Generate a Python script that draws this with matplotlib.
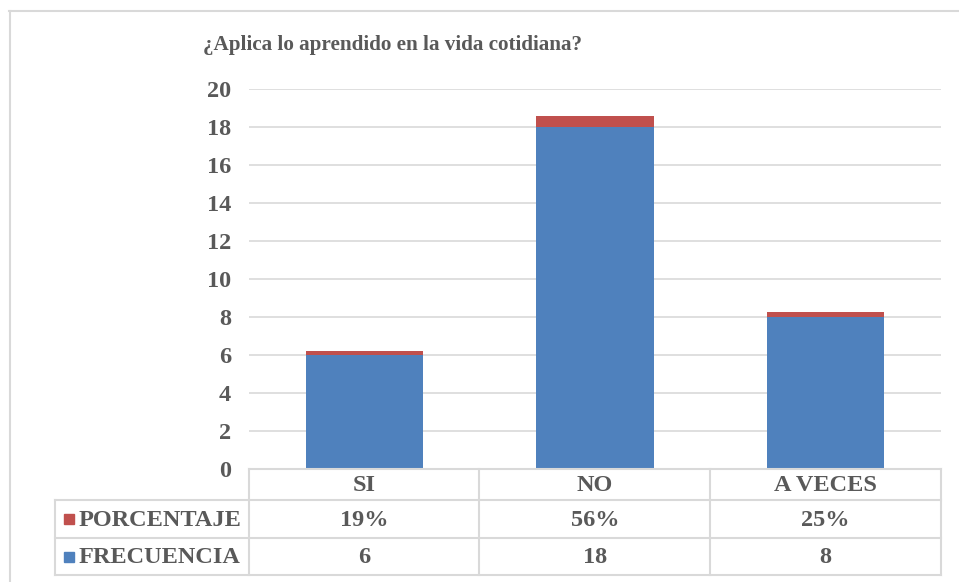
import matplotlib
matplotlib.use("Agg")
import matplotlib.pyplot as plt
from matplotlib.lines import Line2D
from matplotlib.patches import Rectangle
import matplotlib.transforms as mtrans

categories = ["SI", "NO", "A VECES"]
frecuencia = [6, 18, 8]
porcentaje = [0.19, 0.56, 0.25]
porcentaje_labels = ["19%", "56%", "25%"]
title = "¿Aplica lo aprendido en la vida cotidiana?"
yticks = [0, 2, 4, 6, 8, 10, 12, 14, 16, 18, 20]

BLUE = "#4F81BD"
RED = "#C0504D"
TXT = "#595959"
GRID = "#D9D9D9"
FONT = "Liberation Serif"
FS = 17.5

W, H = 959, 582
fig = plt.figure(figsize=(W / 100, H / 100), dpi=100)
plt.rcParams['font.family'] = [FONT, 'DejaVu Serif']

def fx(px):
    return px / W

def fy(py):
    return 1 - py / H

x0, x1, ytop, ybot = 249, 941, 89, 469
ax = fig.add_axes([fx(x0), fy(ybot), fx(x1) - fx(x0), fy(ytop) - fy(ybot)])

xs = list(range(len(categories)))
ax.bar(xs, frecuencia, width=0.51, color=BLUE, zorder=3)
ax.bar(xs, porcentaje, bottom=frecuencia, width=0.51, color=RED, zorder=3)
ax.set_xlim(-0.5, len(categories) - 0.5)
ax.set_ylim(0, 20)
ax.set_yticks(yticks)
ax.set_yticklabels([str(v) for v in yticks], fontsize=FS, fontweight="bold", color=TXT, family=FONT)
ax.tick_params(axis="y", length=0, pad=13)
ax.set_xticks([])
for s in ax.spines.values():
    s.set_visible(False)
ax.grid(axis="y", color=GRID, linewidth=1.2, zorder=0)
ax.set_axisbelow(True)

# Title
fig.text(fx(203), fy(45), title, fontsize=15.2, fontweight="bold", color=TXT,
         family=FONT, ha="left", va="center")

# Outer frame (top and left only visible)
fig.add_artist(Line2D([fx(9), fx(959)], [fy(11), fy(11)], color=GRID, lw=1.5, transform=fig.transFigure))
fig.add_artist(Line2D([fx(9.5), fx(9.5)], [fy(11), fy(582)], color=GRID, lw=1.5, transform=fig.transFigure))

# Data table
row_y = [469, 500, 538, 575]
col_x = [249, 479, 710, 941]
left_x = 55
lc = GRID
lw = 1.5
fig.add_artist(Line2D([fx(col_x[0]), fx(col_x[-1])], [fy(row_y[0])] * 2, color=lc, lw=lw, transform=fig.transFigure))
for yy in row_y[1:]:
    fig.add_artist(Line2D([fx(left_x), fx(col_x[-1])], [fy(yy)] * 2, color=lc, lw=lw, transform=fig.transFigure))
for xx in col_x:
    fig.add_artist(Line2D([fx(xx)] * 2, [fy(row_y[0]), fy(row_y[-1])], color=lc, lw=lw, transform=fig.transFigure))
fig.add_artist(Line2D([fx(left_x)] * 2, [fy(row_y[1]), fy(row_y[-1])], color=lc, lw=lw, transform=fig.transFigure))

blend = mtrans.blended_transform_factory(ax.transData, fig.transFigure)
tkw = dict(fontsize=FS, fontweight="bold", color=TXT, family=FONT, ha="center", va="center", transform=blend)
for i, c in enumerate(categories):
    fig.text(xs[i], fy((row_y[0] + row_y[1]) / 2 + 1), c, **tkw)
    fig.text(xs[i], fy((row_y[1] + row_y[2]) / 2 + 1), porcentaje_labels[i], **tkw)
    fig.text(xs[i], fy((row_y[2] + row_y[3]) / 2 + 1), str(frecuencia[i]), **tkw)

for (label, color, yy) in [("PORCENTAJE", RED, (row_y[1] + row_y[2]) / 2),
                           ("FRECUENCIA", BLUE, (row_y[2] + row_y[3]) / 2)]:
    fig.add_artist(Rectangle((fx(64), fy(yy + 5)), fx(10), fy(0) - fy(10), color=color,
                             transform=fig.transFigure))
    fig.text(fx(79), fy(yy + 1), label, fontsize=FS, fontweight="bold", color=TXT,
             family=FONT, ha="left", va="center")

fig.savefig("out.png", dpi=100)
